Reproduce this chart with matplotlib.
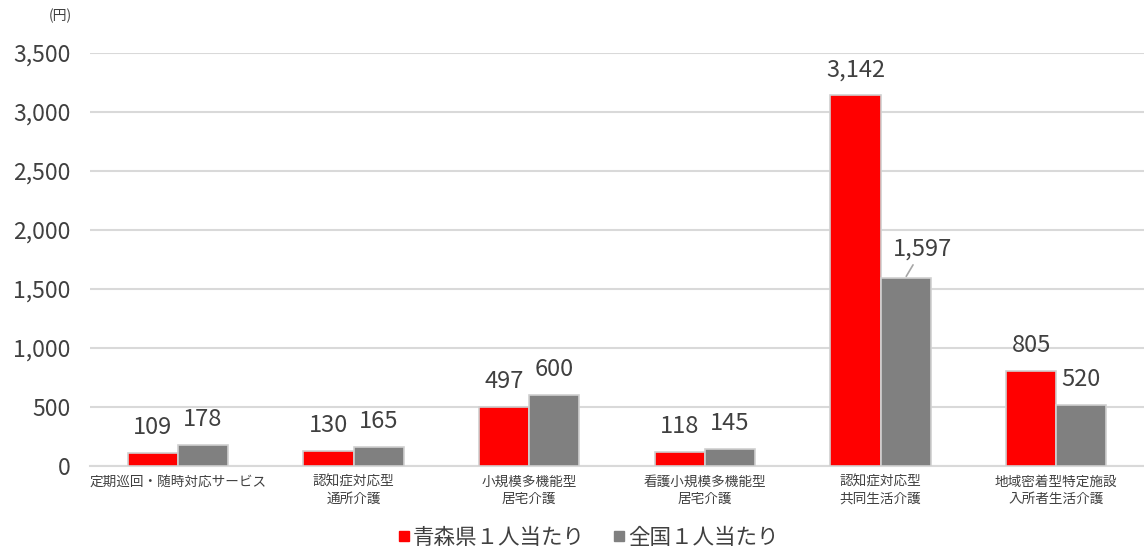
import matplotlib
matplotlib.use("Agg")
import matplotlib.pyplot as plt
from matplotlib.lines import Line2D
import numpy as np

plt.rcParams['font.family'] = ['Noto Sans CJK JP', 'DejaVu Sans']

categories = ["定期巡回・随時対応サービス", "認知症対応型\n通所介護", "小規模多機能型\n居宅介護",
              "看護小規模多機能型\n居宅介護", "認知症対応型\n共同生活介護", "地域密着型特定施設\n入所者生活介護"]
aomori = [109, 130, 497, 118, 3142, 805]
national = [178, 165, 600, 145, 1597, 520]
series_names = ["青森県１人当たり", "全国１人当たり"]
yticks = [0, 500, 1000, 1500, 2000, 2500, 3000, 3500]

fig = plt.figure(figsize=(11.44, 5.5), dpi=100)
ax = fig.add_axes([90/1144, 84/550, 1 - 90/1144, (466-53)/550])

x = np.arange(len(categories))
w = 0.285
ax.bar(x - w/2, aomori, w, color="#ff0000", edgecolor="#d0d0d0", linewidth=1.2, zorder=3)
ax.bar(x + w/2, national, w, color="#808080", edgecolor="#d0d0d0", linewidth=1.2, zorder=3)

ax.set_xlim(-0.5, len(categories) - 0.5)
ax.set_ylim(0, 3500)
ax.set_yticks(yticks)
ax.set_yticklabels([f"{v:,}" for v in yticks], fontsize=16.5, color="#404040")
ax.set_xticks(x)
ax.set_xticklabels(categories, fontsize=9.8, color="#404040", linespacing=1.3)
ax.tick_params(axis='both', length=0)
ax.tick_params(axis='y', pad=14)
ax.tick_params(axis='x', pad=6)
ax.grid(axis='y', color="#d9d9d9", linewidth=1.5, zorder=0)
for s in ["top", "right", "left"]:
    ax.spines[s].set_visible(False)
ax.spines["bottom"].set_color("#d9d9d9")
ax.spines["bottom"].set_linewidth(1.5)

for i in range(len(categories)):
    ax.annotate(f"{aomori[i]:,}", (x[i] - w/2, aomori[i]), xytext=(0, 10), textcoords="offset points",
                ha="center", va="bottom", fontsize=17, color="#404040")
    if i == 4:
        ax.annotate(f"{national[i]:,}", (x[i] + w/2, national[i]), xytext=(12, 12),
                    textcoords="offset points", ha="center", va="bottom", fontsize=17, color="#404040",
                    arrowprops=dict(arrowstyle="-", color="#a6a6a6", lw=1.2, shrinkA=1, shrinkB=1))
    else:
        ax.annotate(f"{national[i]:,}", (x[i] + w/2, national[i]), xytext=(0, 10), textcoords="offset points",
                    ha="center", va="bottom", fontsize=17, color="#404040")

fig.text(60/1144, 1 - 16/550, "(円)", fontsize=10, color="#404040", ha="center", va="center")

handles = [Line2D([], [], marker="s", linestyle="", markersize=7, color="#ff0000"),
           Line2D([], [], marker="s", linestyle="", markersize=7, color="#808080")]
leg = fig.legend(handles, series_names, loc="center", bbox_to_anchor=(587/1144, 1 - 538/550), ncol=2,
                 frameon=False, fontsize=15.5, handletextpad=0.0, columnspacing=1.2, handlelength=0.8)
for t in leg.get_texts():
    t.set_color("#404040")

fig.savefig("out.png", dpi=100)
